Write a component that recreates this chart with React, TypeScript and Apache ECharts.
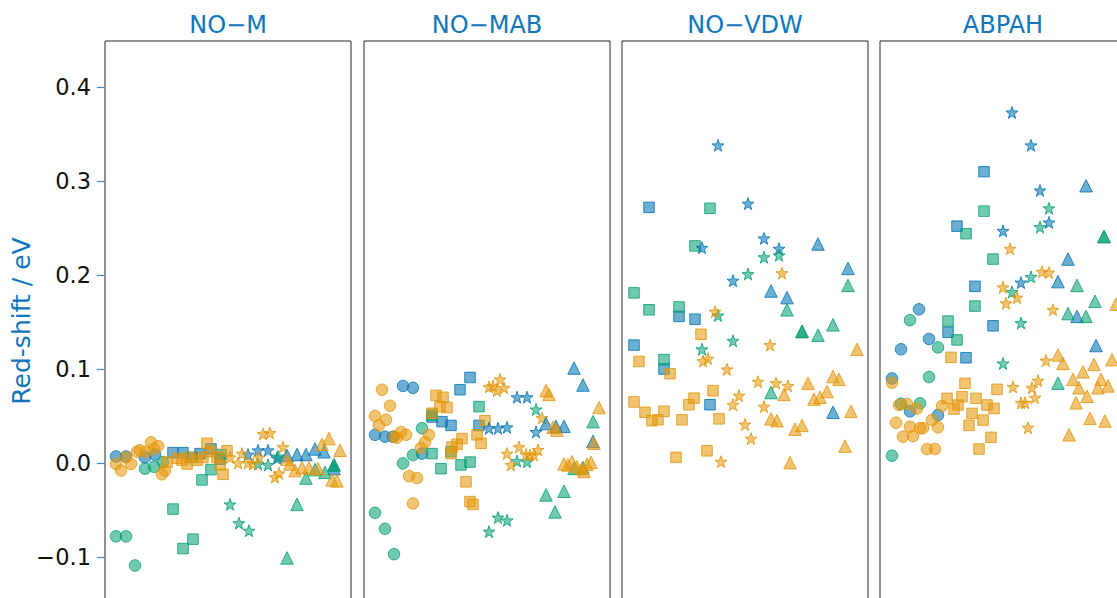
import React, { useEffect, useRef } from "react";
import * as echarts from "echarts";

// ---------- titles / ticks ----------
const panelTitles = ["NO−M", "NO−MAB", "NO−VDW", "ABPAH"];
const yAxisTitle = "Red-shift / eV";
const yMin = -0.2;
const yMax = 0.449;
const yStep = 0.1;
const yLabelLow = -0.1;

// ---------- data: [position within panel, red-shift eV] ----------
// Panel 1: NO−M
const m_blue_circle = [[11, 0.007], [21, 0.007], [40, 0.006], [50, 0.009]];
const m_green_circle = [[11, -0.078], [21, -0.078], [30, -0.109], [40, -0.006], [49, -0.004], [58, 0.001]];
const m_orange_circle = [[11, -0.001], [16, -0.008], [21, 0.006], [26, -0.001], [32, 0.012], [35, 0.0135], [41, 0.012], [46, 0.022], [49, 0.015], [53, 0.018], [57, -0.012], [60, -0.008]];
const m_blue_square = [[68, 0.011], [78, 0.011], [87, 0.006], [95, 0.01], [106, 0.015], [115, 0.004]];
const m_green_square = [[68, -0.049], [78, -0.091], [88, -0.081], [97, -0.018], [106, -0.007], [116, 0.009]];
const m_orange_square = [[62, 0.001], [72, 0.005], [77, 0.003], [82, -0.001], [85, 0.006], [92, 0.003], [98, 0.006], [102, 0.021], [106, 0.012], [112, 0.006], [115, -0.002], [118, -0.012], [122, 0.013]];
const m_blue_star = [[143, 0.009], [153, 0.0135], [163, 0.0135], [172, 0.005]];
const m_green_star = [[125, -0.044], [134, -0.064], [144, -0.072], [153, -0.001], [163, -0.002], [173, 0.007]];
const m_orange_star = [[125, 0.006], [133, 0.0], [137, 0.01], [143, 0.0], [148, -0.001], [154, 0.006], [158, 0.031], [165, 0.032], [170, -0.015], [174, -0.011], [178, 0.017]];
const m_blue_triangle = [[182, 0.008], [192, 0.009], [201, 0.009], [210, 0.015], [219, 0.012], [229, -0.006]];
const m_green_triangle = [[182, -0.101], [192, -0.044], [201, -0.016], [210, -0.007], [220, -0.01], [229, -0.002], [229, -0.002]];
const m_orange_triangle = [[182, 0.004], [185, -0.001], [190, -0.008], [197, -0.005], [204, -0.005], [213, -0.006], [217, 0.02], [224, 0.026], [227, -0.018], [232, -0.019], [235, 0.0135]];

// Panel 2: NO−MAB
const mab_blue_circle = [[39, 0.082], [49, 0.08], [11, 0.03], [21, 0.028], [29, 0.028], [58, 0.01]];
const mab_green_circle = [[58, 0.037], [49, 0.0085], [39, -0.0004], [11, -0.053], [21, -0.07], [30, -0.097]];
const mab_orange_circle = [[18, 0.078], [26, 0.061], [11, 0.05], [22, 0.046], [15, 0.04], [30, 0.028], [37, 0.033], [42, 0.03], [33, 0.027], [65, 0.03], [61, 0.022], [57, 0.016], [45, -0.014], [53, -0.016], [49, -0.043]];
const mab_blue_square = [[106, 0.091], [96, 0.078], [68, 0.049], [78, 0.044], [87, 0.04], [115, 0.04]];
const mab_green_square = [[115, 0.06], [68, 0.051], [87, 0.012], [68, 0.01], [77, -0.006], [97, -0.002], [106, 0.001]];
const mab_orange_square = [[72, 0.072], [79, 0.07], [76, 0.06], [83, 0.059], [68, 0.053], [121, 0.045], [113, 0.03], [117, 0.021], [98, 0.026], [93, 0.02], [88, 0.017], [87, 0.01], [102, -0.02], [106, -0.041], [109, -0.044]];
const mab_blue_star = [[153, 0.07], [163, 0.07], [125, 0.037], [134, 0.037], [143, 0.038], [172, 0.033]];
const mab_green_star = [[172, 0.057], [153, 0.002], [163, 0.0014], [134, -0.058], [143, -0.061], [125, -0.073]];
const mab_orange_star = [[136, 0.089], [125, 0.081], [129, 0.082], [133, 0.077], [140, 0.08], [178, 0.048], [143, 0.01], [155, 0.017], [162, 0.009], [166, 0.0085], [170, 0.0085], [174, 0.014], [147, -0.002]];
const mab_blue_triangle = [[210, 0.101], [219, 0.083], [182, 0.042], [192, 0.039], [200, 0.039], [229, 0.023]];
const mab_green_triangle = [[229, 0.044], [182, -0.034], [200, -0.03], [191, -0.052], [210, -0.0057], [219, -0.005]];
const mab_orange_triangle = [[182, 0.077], [185, 0.073], [235, 0.059], [189, 0.038], [193, 0.035], [230, 0.021], [200, -0.001], [204, -0.002], [208, 0.0014], [213, -0.004], [218, -0.006], [223, -0.0014], [227, 0.0007], [220, -0.009]];

// Panel 3: NO−VDW
const vdw_blue_circle: number[][] = [];
const vdw_green_circle: number[][] = [];
const vdw_orange_circle: number[][] = [];
const vdw_blue_square = [[27, 0.272], [12, 0.1255], [57, 0.156], [73, 0.153], [42, 0.1], [88, 0.062]];
const vdw_green_square = [[88, 0.271], [73, 0.231], [12, 0.181], [27, 0.163], [57, 0.166], [42, 0.11]];
const vdw_orange_square = [[79, 0.137], [17, 0.108], [48, 0.095], [91, 0.077], [72, 0.069], [67, 0.062], [12, 0.065], [23, 0.054], [42, 0.055], [30, 0.045], [36, 0.046], [60, 0.046], [97, 0.047], [85, 0.013], [54, 0.006]];
const vdw_blue_star = [[96, 0.338], [126, 0.276], [142, 0.239], [80, 0.229], [157, 0.228], [111, 0.194]];
const vdw_green_star = [[142, 0.219], [157, 0.221], [126, 0.201], [96, 0.157], [111, 0.13], [80, 0.121]];
const vdw_orange_star = [[160, 0.202], [93, 0.161], [148, 0.1255], [86, 0.111], [81, 0.1085], [105, 0.0996], [136, 0.0865], [154, 0.085], [166, 0.082], [117, 0.0716], [111, 0.062], [142, 0.06], [123, 0.041], [129, 0.026], [99, 0.0014]];
const vdw_blue_triangle = [[196, 0.233], [226, 0.207], [149, 0.183], [165, 0.176], [211, 0.054]];
const vdw_green_triangle = [[226, 0.189], [165, 0.163], [211, 0.147], [180, 0.14], [180, 0.14], [196, 0.136], [149, 0.075]];
const vdw_orange_triangle = [[235, 0.121], [211, 0.092], [217, 0.089], [186, 0.085], [205, 0.076], [162, 0.073], [192, 0.068], [198, 0.07], [229, 0.055], [149, 0.047], [155, 0.045], [173, 0.036], [180, 0.04], [223, 0.018], [168, 0.0004]];

// Panel 4: ABPAH
const ab_blue_circle = [[39, 0.1635], [21, 0.121], [49, 0.132], [12, 0.09], [58, 0.051], [30, 0.055]];
const ab_green_circle = [[30, 0.152], [58, 0.123], [49, 0.0915], [21, 0.063], [40, 0.0635], [12, 0.0078]];
const ab_orange_circle = [[12, 0.0855], [19, 0.0617], [27, 0.0628], [37, 0.058], [62, 0.0606], [52, 0.0457], [16, 0.0429], [30, 0.0386], [40, 0.037], [43, 0.037], [58, 0.038], [23, 0.028], [33, 0.0287], [47, 0.0149], [55, 0.0149]];
const ab_blue_square = [[104, 0.31], [77, 0.252], [95, 0.188], [113, 0.146], [68, 0.139], [86, 0.112]];
const ab_green_square = [[104, 0.268], [86, 0.244], [113, 0.217], [95, 0.167], [68, 0.151], [77, 0.131]];
const ab_orange_square = [[71, 0.1124], [85, 0.0848], [117, 0.0784], [67, 0.0688], [82, 0.0706], [96, 0.0688], [107, 0.0617], [114, 0.058], [78, 0.0617], [74, 0.0574], [92, 0.0528], [103, 0.0457], [89, 0.0401], [111, 0.0273], [99, 0.0149]];
const ab_blue_star = [[132, 0.373], [151, 0.338], [160, 0.29], [169, 0.256], [123, 0.247], [141, 0.192]];
const ab_green_star = [[169, 0.271], [160, 0.251], [151, 0.198], [132, 0.182], [141, 0.149], [123, 0.106]];
const ab_orange_star = [[130, 0.228], [162, 0.2035], [169, 0.2025], [123, 0.187], [137, 0.176], [126, 0.17], [173, 0.163], [166, 0.109], [133, 0.081], [158, 0.0876], [152, 0.08], [155, 0.0695], [141, 0.064], [145, 0.064], [148, 0.0376]];
const ab_blue_triangle = [[206, 0.295], [188, 0.217], [178, 0.193], [197, 0.156], [216, 0.125]];
const ab_green_triangle = [[224, 0.241], [224, 0.241], [197, 0.189], [215, 0.172], [188, 0.159], [206, 0.156], [178, 0.085]];
const ab_orange_triangle = [[236, 0.169], [178, 0.115], [183, 0.106], [232, 0.11], [214, 0.105], [203, 0.097], [193, 0.089], [221, 0.089], [199, 0.08], [218, 0.08], [228, 0.082], [207, 0.071], [196, 0.064], [210, 0.0475], [225, 0.0447], [189, 0.03]];

const panelData = [
  {
    circle: [m_blue_circle, m_green_circle, m_orange_circle],
    square: [m_blue_square, m_green_square, m_orange_square],
    star: [m_blue_star, m_green_star, m_orange_star],
    triangle: [m_blue_triangle, m_green_triangle, m_orange_triangle],
  },
  {
    circle: [mab_blue_circle, mab_green_circle, mab_orange_circle],
    square: [mab_blue_square, mab_green_square, mab_orange_square],
    star: [mab_blue_star, mab_green_star, mab_orange_star],
    triangle: [mab_blue_triangle, mab_green_triangle, mab_orange_triangle],
  },
  {
    circle: [vdw_blue_circle, vdw_green_circle, vdw_orange_circle],
    square: [vdw_blue_square, vdw_green_square, vdw_orange_square],
    star: [vdw_blue_star, vdw_green_star, vdw_orange_star],
    triangle: [vdw_blue_triangle, vdw_green_triangle, vdw_orange_triangle],
  },
  {
    circle: [ab_blue_circle, ab_green_circle, ab_orange_circle],
    square: [ab_blue_square, ab_green_square, ab_orange_square],
    star: [ab_blue_star, ab_green_star, ab_orange_star],
    triangle: [ab_blue_triangle, ab_green_triangle, ab_orange_triangle],
  },
];

// ---------- style ----------
const FONT = "DejaVu Sans";
const TITLE_BLUE = "#0F76BD";
const PALETTE = [
  { fill: "rgba(1,115,178,0.72)", edge: "#0173B2" },
  { fill: "rgba(2,158,115,0.70)", edge: "#029E73" },
  { fill: "rgba(230,152,10,0.72)", edge: "#E0940A" },
];

function starPath(): string {
  const pts: string[] = [];
  for (let i = 0; i < 10; i++) {
    const a = -Math.PI / 2 + (i * Math.PI) / 5;
    const r = i % 2 === 0 ? 1 : 0.4;
    pts.push(`${(r * Math.cos(a)).toFixed(4)} ${(r * Math.sin(a)).toFixed(4)}`);
  }
  return "path://M" + pts.join(" L") + " Z";
}

const SHAPES: { key: "circle" | "square" | "star" | "triangle"; symbol: string; size: number }[] = [
  { key: "circle", symbol: "circle", size: 11.5 },
  { key: "square", symbol: "rect", size: 10.5 },
  { key: "star", symbol: starPath(), size: 12 },
  { key: "triangle", symbol: "triangle", size: 12.5 },
];

const GRID_LEFTS = [105, 364, 622, 880];
const GRID_W = 246;
const GRID_TOP = 41;
const PX_PER_UNIT = 940;

export default function App() {
  const ref = useRef<HTMLDivElement>(null);

  useEffect(() => {
    if (!ref.current) return;
    const chart = echarts.init(ref.current, undefined, { renderer: "svg" });
    const gridH = Math.round((yMax - yMin) * PX_PER_UNIT);

    const grid = GRID_LEFTS.map((l) => ({
      left: l,
      top: GRID_TOP,
      width: GRID_W,
      height: gridH,
      show: true,
      borderColor: "#262626",
      borderWidth: 1,
      backgroundColor: "transparent",
    }));

    const xAxis = GRID_LEFTS.map((_, i) => ({
      type: "value",
      gridIndex: i,
      min: 0,
      max: GRID_W,
      show: false,
    }));

    const yAxis = GRID_LEFTS.map((_, i) => ({
      type: "value",
      gridIndex: i,
      min: yMin,
      max: yMax,
      interval: yStep,
      splitLine: { show: false },
      axisLine: { show: false },
      axisTick: {
        show: i === 0,
        length: 8,
        inside: false,
        lineStyle: { color: "#3A8DCC", width: 1.2 },
      },
      axisLabel: {
        show: i === 0,
        showMaxLabel: false,
        showMinLabel: false,
        margin: 14,
        fontFamily: FONT,
        fontSize: 22.5,
        color: "#111",
        formatter: (v: number) => {
          const r = Math.round(v * 10) / 10;
          if (Math.abs(v - r) > 1e-9 || r < yLabelLow - 1e-9) return "";
          return r.toFixed(1).replace("-", "\u2212");
        },
      },
    }));

    const series: any[] = [];
    panelData.forEach((pd, p) => {
      SHAPES.forEach((sh) => {
        pd[sh.key].forEach((arr, c) => {
          series.push({
            type: "scatter",
            xAxisIndex: p,
            yAxisIndex: p,
            data: arr,
            symbol: sh.symbol,
            symbolSize: sh.size,
            itemStyle: {
              color: PALETTE[c].fill,
              borderColor: PALETTE[c].edge,
              borderWidth: 1,
            },
            emphasis: { disabled: true },
          });
        });
      });
    });

    const graphic: any[] = panelTitles.map((t, i) => ({
      type: "text",
      x: GRID_LEFTS[i] + GRID_W / 2,
      y: 25,
      style: {
        text: t,
        fill: TITLE_BLUE,
        font: `24px "${FONT}"`,
        align: "center",
        verticalAlign: "middle",
      },
    }));
    graphic.push({
      type: "text",
      x: 21,
      y: 321,
      rotation: Math.PI / 2,
      style: {
        text: yAxisTitle,
        fill: TITLE_BLUE,
        font: `25px "${FONT}"`,
        align: "center",
        verticalAlign: "middle",
      },
    });

    chart.setOption({
      animation: false,
      backgroundColor: "#ffffff",
      grid,
      xAxis,
      yAxis,
      series,
      graphic,
    });

    return () => chart.dispose();
  }, []);

  return (
    <div
      style={{
        position: "fixed",
        left: 0,
        top: 0,
        width: 1117,
        height: 598,
        overflow: "hidden",
        background: "#fff",
      }}
    >
      <div ref={ref} style={{ width: 1200, height: 670 }} />
    </div>
  );
}
